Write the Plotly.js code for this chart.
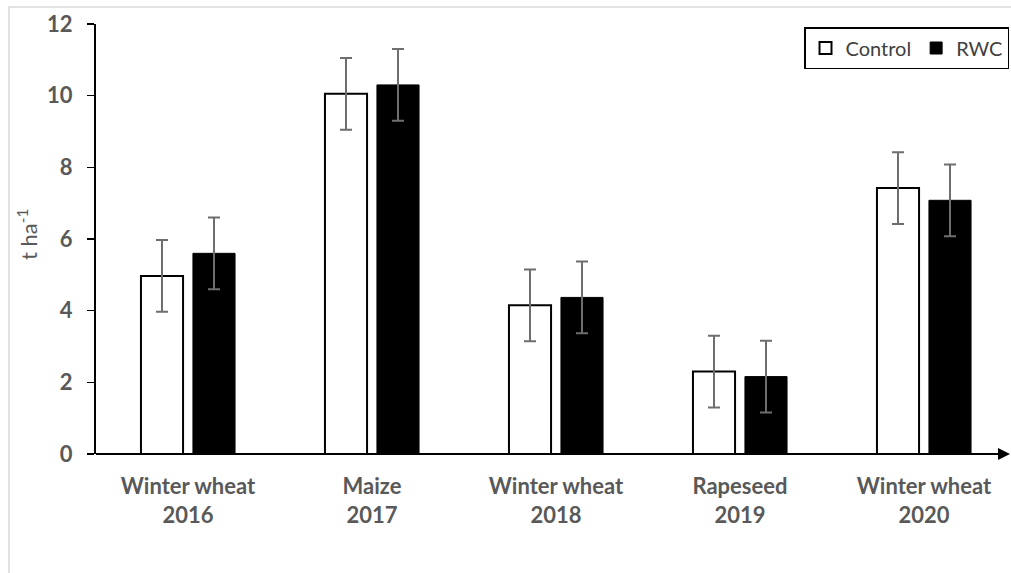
<!DOCTYPE html>
<html>
<head>
<meta charset="utf-8">
<script src="https://cdn.plot.ly/plotly-3.0.1.min.js"></script>
<style>html,body{margin:0;padding:0;background:#fff;}#chart{width:1011px;height:573px;}</style>
</head>
<body>
<div id="chart"></div>
<script>
const categories = ["Winter wheat<br>2016", "Maize<br>2017", "Winter wheat<br>2018", "Rapeseed<br>2019", "Winter wheat<br>2020"];
const controlValues = [4.97, 10.05, 4.15, 2.30, 7.42];
const rwcValues = [5.60, 10.30, 4.37, 2.16, 7.08];
const controlErrors = [1.0, 1.0, 1.0, 1.0, 1.0];
const rwcErrors = [1.0, 1.0, 1.0, 1.0, 1.0];
const yTicks = [0, 2, 4, 6, 8, 10, 12];
const yTitle = 't ha<sup>-1</sup>';

const errStyle = {type: 'data', visible: true, color: '#6e6e6e', thickness: 2, width: 6};

const traces = [
  {
    type: 'bar', name: 'Control', x: categories, y: controlValues,
    marker: {color: '#ffffff', line: {color: '#000000', width: 2}},
    error_y: Object.assign({array: controlErrors}, errStyle),
    hoverinfo: 'skip'
  },
  {
    type: 'bar', name: 'RWC', x: categories, y: rwcValues,
    marker: {color: '#000000', line: {color: '#000000', width: 1}},
    error_y: Object.assign({array: rwcErrors}, errStyle),
    hoverinfo: 'skip'
  }
];

const L = 96, R = 1009, T = 24, B = 454;
const pw = R - L, ph = B - T;
const tickFont = {family: 'Lato, sans-serif', size: 22, color: '#595959', weight: 'bold'};

const layout = {
  width: 1011, height: 573,
  margin: {l: L, r: 1011 - R, t: T, b: 573 - B, pad: 0},
  paper_bgcolor: '#ffffff', plot_bgcolor: '#ffffff',
  barmode: 'group', bargap: 0.435, bargroupgap: 0.19,
  showlegend: true,
  legend: {
    orientation: 'h', x: 1, xanchor: 'right', y: (B - 27) / ph, yanchor: 'top',
    bordercolor: '#000000', borderwidth: 1.5, bgcolor: '#ffffff',
    font: {family: 'Lato, sans-serif', size: 20, color: '#404040'},
    traceorder: 'normal'
  },
  font: {family: 'Lato, sans-serif', color: '#595959'},
  xaxis: {
    type: 'category', range: [-0.5, -0.5 + pw / 184],
    showline: false,
    ticks: '', showgrid: false, zeroline: false, fixedrange: true,
    tickfont: tickFont,
    ticklabelstandoff: 17
  },
  yaxis: {
    range: [0, 12], tickvals: yTicks, ticktext: yTicks.map(String),
    showline: true, linecolor: '#000000', linewidth: 2,
    ticks: 'outside', ticklen: 7, tickwidth: 1.5, tickcolor: '#000000',
    showgrid: false, zeroline: false, fixedrange: true,
    tickfont: tickFont,
    ticklabelstandoff: 10
  },
  shapes: [
    {type: 'rect', xref: 'paper', yref: 'paper',
     x0: (9 - L) / pw, x1: 1.2, y0: -0.5, y1: (B - 7) / ph,
     line: {color: '#d9d9d9', width: 1.5}, fillcolor: 'rgba(0,0,0,0)', layer: 'below'},
    {type: 'line', xref: 'paper', yref: 'paper', x0: 0, x1: (1000 - L) / pw, y0: 0, y1: 0,
     line: {color: '#000000', width: 2}}
  ],
  annotations: [
    {xref: 'paper', yref: 'paper', x: (1011 - L) / pw, y: 0, ax: -14, ay: 0,
     axref: 'pixel', ayref: 'pixel', showarrow: true, arrowhead: 2, arrowsize: 1.2,
     arrowwidth: 2, arrowcolor: '#000000', text: ''},
    {xref: 'paper', yref: 'paper', x: (27 - L) / pw, y: (B - 235) / ph,
     xanchor: 'center', yanchor: 'middle', showarrow: false, textangle: -90,
     text: yTitle, font: {family: 'Lato, sans-serif', size: 22, color: '#595959'}}
  ]
};

Plotly.newPlot('chart', traces, layout, {displayModeBar: false, staticPlot: true});
</script>
</body>
</html>
